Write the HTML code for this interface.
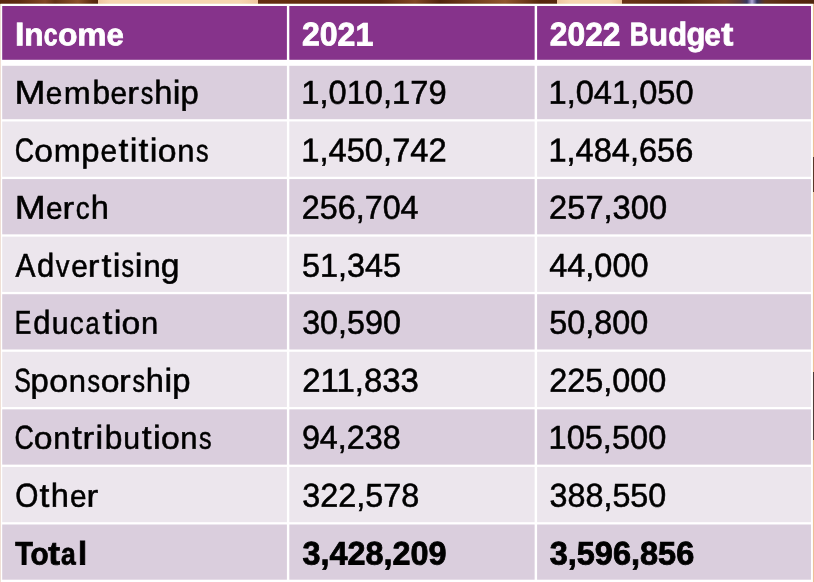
<!DOCTYPE html><html><head><meta charset="utf-8"><style>
html,body{margin:0;padding:0;width:814px;height:582px;overflow:hidden;position:relative;background:rgb(242,220,200);}
svg{position:absolute;left:0;top:0;will-change:transform;}
text{font-family:"Liberation Sans",sans-serif;text-rendering:geometricPrecision;}
.r{fill:#000;stroke:#000;stroke-width:0.55}
.b{font-weight:bold;fill:#000;stroke:#000;stroke-width:0.8}
.w{fill:#fff;stroke:#fff}
</style></head><body>
<svg width="814" height="582" viewBox="0 0 814 582"><defs><linearGradient id="s" gradientUnits="userSpaceOnUse" x1="0" y1="0" x2="814" y2="0"><stop offset="0.00000" stop-color="rgb(88,40,14)"/><stop offset="0.02457" stop-color="rgb(95,44,16)"/><stop offset="0.05528" stop-color="rgb(130,72,36)"/><stop offset="0.06757" stop-color="rgb(100,50,20)"/><stop offset="0.09582" stop-color="rgb(140,82,42)"/><stop offset="0.11302" stop-color="rgb(95,45,16)"/><stop offset="0.12039" stop-color="rgb(85,38,12)"/><stop offset="0.12041" stop-color="rgb(238,198,158)"/><stop offset="0.13514" stop-color="rgb(246,214,176)"/><stop offset="0.29484" stop-color="rgb(246,214,176)"/><stop offset="0.31695" stop-color="rgb(238,198,158)"/><stop offset="0.31697" stop-color="rgb(100,46,16)"/><stop offset="0.36855" stop-color="rgb(98,44,15)"/><stop offset="0.46683" stop-color="rgb(90,40,13)"/><stop offset="0.50983" stop-color="rgb(130,72,36)"/><stop offset="0.54054" stop-color="rgb(82,36,11)"/><stop offset="0.62039" stop-color="rgb(145,88,45)"/><stop offset="0.66339" stop-color="rgb(86,38,12)"/><stop offset="0.68428" stop-color="rgb(88,40,13)"/><stop offset="0.68429" stop-color="rgb(238,198,158)"/><stop offset="0.70025" stop-color="rgb(246,214,176)"/><stop offset="0.74939" stop-color="rgb(246,214,176)"/><stop offset="0.76462" stop-color="rgb(236,192,150)"/><stop offset="0.76463" stop-color="rgb(105,52,22)"/><stop offset="0.83538" stop-color="rgb(90,42,15)"/><stop offset="0.89066" stop-color="rgb(120,66,35)"/><stop offset="0.90909" stop-color="rgb(90,56,56)"/><stop offset="0.91769" stop-color="rgb(55,55,95)"/><stop offset="0.92383" stop-color="rgb(175,165,215)"/><stop offset="0.92998" stop-color="rgb(50,50,92)"/><stop offset="0.93980" stop-color="rgb(95,52,28)"/><stop offset="0.97052" stop-color="rgb(88,40,14)"/><stop offset="1.00000" stop-color="rgb(80,38,13)"/></linearGradient></defs><rect x="0" y="0" width="814" height="3.9" fill="url(#s)"/><rect x="0" y="3.9" width="1" height="578.1" fill="rgb(240,224,214)"/><rect x="812.9" y="3.9" width="1.1" height="578.1" fill="rgb(238,192,150)"/><rect x="812.9" y="157" width="1.1" height="35" fill="rgb(90,55,40)"/><rect x="812.9" y="372" width="1.1" height="68" fill="rgb(80,60,55)"/><rect x="1" y="3.8" width="811.9" height="578.2" fill="#fff"/><rect x="2.2" y="6" width="284.7" height="53.8" fill="rgb(134,51,139)"/><rect x="289.3" y="6" width="245.35" height="53.8" fill="rgb(134,51,139)"/><rect x="537.1" y="6" width="273.9" height="53.8" fill="rgb(134,51,139)"/><rect x="2.2" y="65.8" width="284.7" height="53.4" fill="rgb(218,206,221)"/><rect x="289.3" y="65.8" width="245.35" height="53.4" fill="rgb(218,206,221)"/><rect x="537.1" y="65.8" width="273.9" height="53.4" fill="rgb(218,206,221)"/><rect x="2.2" y="121.5" width="284.7" height="55.271" fill="rgb(236,230,237)"/><rect x="289.3" y="121.5" width="245.35" height="55.271" fill="rgb(236,230,237)"/><rect x="537.1" y="121.5" width="273.9" height="55.271" fill="rgb(236,230,237)"/><rect x="2.2" y="179.071" width="284.7" height="55.271" fill="rgb(218,206,221)"/><rect x="289.3" y="179.071" width="245.35" height="55.271" fill="rgb(218,206,221)"/><rect x="537.1" y="179.071" width="273.9" height="55.271" fill="rgb(218,206,221)"/><rect x="2.2" y="236.642" width="284.7" height="55.271" fill="rgb(236,230,237)"/><rect x="289.3" y="236.642" width="245.35" height="55.271" fill="rgb(236,230,237)"/><rect x="537.1" y="236.642" width="273.9" height="55.271" fill="rgb(236,230,237)"/><rect x="2.2" y="294.213" width="284.7" height="55.271" fill="rgb(218,206,221)"/><rect x="289.3" y="294.213" width="245.35" height="55.271" fill="rgb(218,206,221)"/><rect x="537.1" y="294.213" width="273.9" height="55.271" fill="rgb(218,206,221)"/><rect x="2.2" y="351.784" width="284.7" height="55.271" fill="rgb(236,230,237)"/><rect x="289.3" y="351.784" width="245.35" height="55.271" fill="rgb(236,230,237)"/><rect x="537.1" y="351.784" width="273.9" height="55.271" fill="rgb(236,230,237)"/><rect x="2.2" y="409.355" width="284.7" height="55.271" fill="rgb(218,206,221)"/><rect x="289.3" y="409.355" width="245.35" height="55.271" fill="rgb(218,206,221)"/><rect x="537.1" y="409.355" width="273.9" height="55.271" fill="rgb(218,206,221)"/><rect x="2.2" y="466.926" width="284.7" height="55.271" fill="rgb(236,230,237)"/><rect x="289.3" y="466.926" width="245.35" height="55.271" fill="rgb(236,230,237)"/><rect x="537.1" y="466.926" width="273.9" height="55.271" fill="rgb(236,230,237)"/><rect x="2.2" y="524.497" width="284.7" height="55.203" fill="rgb(218,206,221)"/><rect x="289.3" y="524.497" width="245.35" height="55.203" fill="rgb(218,206,221)"/><rect x="537.1" y="524.497" width="273.9" height="55.203" fill="rgb(218,206,221)"/>
<text class="b w" font-size="32.6" transform="matrix(0.9849 0.0005 0 1 301.91 45.36)">2021</text>
<text class="b w" font-size="32.6" transform="matrix(0.9757 0.0005 0 1 549.81 45.36)">2022</text>
<text class="r" font-size="33.2" transform="matrix(0.9833 0.0005 0 1 301.36 103.77)">1,010,179</text>
<text class="r" font-size="33.2" transform="matrix(0.9822 0.0005 0 1 548.54 103.77)">1,041,050</text>
<text class="r" font-size="33.2" transform="matrix(0.9851 0.0005 0 1 301.23 161.43)">1,450,742</text>
<text class="r" font-size="33.2" transform="matrix(0.9815 0.0005 0 1 548.44 161.43)">1,484,656</text>
<text class="r" font-size="33.2" transform="matrix(0.9728 0.0005 0 1 301.85 218.73)">256,704</text>
<text class="r" font-size="33.2" transform="matrix(0.9831 0.0005 0 1 549.12 218.73)">257,300</text>
<text class="r" font-size="33.2" transform="matrix(0.9761 0.0005 0 1 301.89 276.73)">51,345</text>
<text class="r" font-size="33.2" transform="matrix(0.9783 0.0005 0 1 549.2 276.73)">44,000</text>
<text class="r" font-size="33.2" transform="matrix(0.9718 0.0005 0 1 302.17 333.68)">30,590</text>
<text class="r" font-size="33.2" transform="matrix(0.9748 0.0005 0 1 549.32 333.68)">50,800</text>
<text class="r" font-size="33.2" transform="matrix(0.9924 0.0005 0 1 302.23 391.68)">211,833</text>
<text class="r" font-size="33.2" transform="matrix(0.9761 0.0005 0 1 549.19 391.68)">225,000</text>
<text class="r" font-size="33.2" transform="matrix(0.9726 0.0005 0 1 301.9 448.63)">94,238</text>
<text class="r" font-size="33.2" transform="matrix(0.9814 0.0005 0 1 548.52 448.63)">105,500</text>
<text class="r" font-size="33.2" transform="matrix(0.9757 0.0005 0 1 302.17 506.73)">322,578</text>
<text class="r" font-size="33.2" transform="matrix(0.9723 0.0005 0 1 549.59 506.73)">388,550</text>
<text class="b" font-size="32.6" transform="matrix(0.994 0.0005 0 1 302.39 564.55)">3,428,209</text>
<text class="b" font-size="32.6" transform="matrix(0.9977 0.0005 0 1 549.67 564.55)">3,596,856</text>
<text class="b w" font-size="32.6" transform="matrix(1.0435 0.0005 0 1 14.92 45.36)">I</text>
<text class="b w" font-size="32.6" transform="matrix(0.9719 0.0005 0 0.955 24.21 45.36)">n</text>
<text class="b w" font-size="32.6" transform="matrix(0.7609 0.0005 0 0.955 43.63 45.36)">c</text>
<text class="b w" font-size="32.6" transform="matrix(0.9789 0.0005 0 0.955 57.95 45.36)">o</text>
<text class="b w" font-size="32.6" transform="matrix(1.0074 0.0005 0 0.955 77.14 45.36)">m</text>
<text class="b w" font-size="32.6" transform="matrix(0.9528 0.0005 0 0.955 106.39 45.36)">e</text>
<text class="b w" font-size="32.6" transform="matrix(0.7997 0.0005 0 1 629.76 45.36)">B</text>
<text class="b w" font-size="32.6" transform="matrix(0.9719 0.0005 0 0.955 648.74 45.36)">u</text>
<text class="b w" font-size="32.6" transform="matrix(0.9496 0.0005 0 1 668.23 45.36)">d</text>
<text class="b w" font-size="32.6" transform="matrix(0.9515 0.0005 0 1 686.43 45.36)">g</text>
<text class="b w" font-size="32.6" transform="matrix(0.9083 0.0005 0 0.955 704.34 45.36)">e</text>
<text class="b w" font-size="32.6" transform="matrix(1.1133 0.0005 0 1 721.16 45.36)">t</text>
<text class="r" font-size="33.2" transform="matrix(1.1189 0.0005 0 1 14.59 103.77)">M</text>
<text class="r" font-size="33.2" transform="matrix(0.8955 0.0005 0 0.94 45.85 103.77)">e</text>
<text class="r" font-size="33.2" transform="matrix(0.9737 0.0005 0 0.94 63.65 103.77)">m</text>
<text class="r" font-size="33.2" transform="matrix(0.9544 0.0005 0 1 92.57 103.77)">b</text>
<text class="r" font-size="33.2" transform="matrix(0.8955 0.0005 0 0.94 110.58 103.77)">e</text>
<text class="r" font-size="33.2" transform="matrix(1.0542 0.0005 0 0.94 127.15 103.77)">r</text>
<text class="r" font-size="33.2" transform="matrix(0.7564 0.0005 0 0.94 140.81 103.77)">s</text>
<text class="r" font-size="33.2" transform="matrix(0.9817 0.0005 0 1 154.14 103.77)">h</text>
<text class="r" font-size="33.2" transform="matrix(1.0452 0.0005 0 1 172.83 103.77)">i</text>
<text class="r" font-size="33.2" transform="matrix(0.9879 0.0005 0 1 180.6 103.77)">p</text>
<text class="r" font-size="33.2" transform="matrix(0.8062 0.0005 0 1 14.87 161.43)">C</text>
<text class="r" font-size="33.2" transform="matrix(1.0175 0.0005 0 0.94 34.15 161.43)">o</text>
<text class="r" font-size="33.2" transform="matrix(0.9737 0.0005 0 0.94 53.63 161.43)">m</text>
<text class="r" font-size="33.2" transform="matrix(0.9879 0.0005 0 1 81.14 161.43)">p</text>
<text class="r" font-size="33.2" transform="matrix(0.8955 0.0005 0 0.94 100.56 161.43)">e</text>
<text class="r" font-size="33.2" transform="matrix(1.0674 0.0005 0 1 118.53 161.43)">t</text>
<text class="r" font-size="33.2" transform="matrix(1.0452 0.0005 0 1 129.77 161.43)">i</text>
<text class="r" font-size="33.2" transform="matrix(1.0674 0.0005 0 1 138.58 161.43)">t</text>
<text class="r" font-size="33.2" transform="matrix(1.0452 0.0005 0 1 149.82 161.43)">i</text>
<text class="r" font-size="33.2" transform="matrix(1.0175 0.0005 0 0.94 157.72 161.43)">o</text>
<text class="r" font-size="33.2" transform="matrix(0.9324 0.0005 0 0.94 177.19 161.43)">n</text>
<text class="r" font-size="33.2" transform="matrix(0.7564 0.0005 0 0.94 195.93 161.43)">s</text>
<text class="r" font-size="33.2" transform="matrix(1.1189 0.0005 0 1 14.7 218.73)">M</text>
<text class="r" font-size="33.2" transform="matrix(0.8955 0.0005 0 0.94 45.96 218.73)">e</text>
<text class="r" font-size="33.2" transform="matrix(1.0542 0.0005 0 0.94 62.53 218.73)">r</text>
<text class="r" font-size="33.2" transform="matrix(0.8348 0.0005 0 0.94 75.78 218.73)">c</text>
<text class="r" font-size="33.2" transform="matrix(0.9817 0.0005 0 1 90.65 218.73)">h</text>
<text class="r" font-size="33.2" transform="matrix(0.9017 0.0005 0 1 15.59 276.73)">A</text>
<text class="r" font-size="33.2" transform="matrix(0.9343 0.0005 0 1 36.91 276.73)">d</text>
<text class="r" font-size="33.2" transform="matrix(0.8276 0.0005 0 0.94 55.68 276.73)">v</text>
<text class="r" font-size="33.2" transform="matrix(0.8955 0.0005 0 0.94 71.17 276.73)">e</text>
<text class="r" font-size="33.2" transform="matrix(1.0542 0.0005 0 0.94 87.74 276.73)">r</text>
<text class="r" font-size="33.2" transform="matrix(1.0674 0.0005 0 1 101.53 276.73)">t</text>
<text class="r" font-size="33.2" transform="matrix(1.0452 0.0005 0 1 112.77 276.73)">i</text>
<text class="r" font-size="33.2" transform="matrix(0.7564 0.0005 0 0.94 121.47 276.73)">s</text>
<text class="r" font-size="33.2" transform="matrix(1.0452 0.0005 0 1 134.82 276.73)">i</text>
<text class="r" font-size="33.2" transform="matrix(0.9324 0.0005 0 0.94 143.45 276.73)">n</text>
<text class="r" font-size="33.2" transform="matrix(1.0147 0.0005 0 1 160.78 276.73)">g</text>
<text class="r" font-size="33.2" transform="matrix(0.75 0.0005 0 1 14.7 333.68)">E</text>
<text class="r" font-size="33.2" transform="matrix(0.9343 0.0005 0 1 33.22 333.68)">d</text>
<text class="r" font-size="33.2" transform="matrix(0.9111 0.0005 0 0.94 51.77 333.68)">u</text>
<text class="r" font-size="33.2" transform="matrix(0.8348 0.0005 0 0.94 69.85 333.68)">c</text>
<text class="r" font-size="33.2" transform="matrix(0.7594 0.0005 0 0.94 85.48 333.68)">a</text>
<text class="r" font-size="33.2" transform="matrix(1.0674 0.0005 0 1 102.43 333.68)">t</text>
<text class="r" font-size="33.2" transform="matrix(1.0452 0.0005 0 1 113.67 333.68)">i</text>
<text class="r" font-size="33.2" transform="matrix(1.0175 0.0005 0 0.94 121.57 333.68)">o</text>
<text class="r" font-size="33.2" transform="matrix(0.9324 0.0005 0 0.94 141.03 333.68)">n</text>
<text class="r" font-size="33.2" transform="matrix(0.75 0.0005 0 1 14.23 391.68)">S</text>
<text class="r" font-size="33.2" transform="matrix(0.9879 0.0005 0 1 30.53 391.68)">p</text>
<text class="r" font-size="33.2" transform="matrix(1.0175 0.0005 0 0.94 49.33 391.68)">o</text>
<text class="r" font-size="33.2" transform="matrix(0.9324 0.0005 0 0.94 68.79 391.68)">n</text>
<text class="r" font-size="33.2" transform="matrix(0.7564 0.0005 0 0.94 87.53 391.68)">s</text>
<text class="r" font-size="33.2" transform="matrix(1.0175 0.0005 0 0.94 100.63 391.68)">o</text>
<text class="r" font-size="33.2" transform="matrix(1.0542 0.0005 0 0.94 118.88 391.68)">r</text>
<text class="r" font-size="33.2" transform="matrix(0.7564 0.0005 0 0.94 132.55 391.68)">s</text>
<text class="r" font-size="33.2" transform="matrix(0.9817 0.0005 0 1 145.87 391.68)">h</text>
<text class="r" font-size="33.2" transform="matrix(1.0452 0.0005 0 1 164.57 391.68)">i</text>
<text class="r" font-size="33.2" transform="matrix(0.9879 0.0005 0 1 172.34 391.68)">p</text>
<text class="r" font-size="33.2" transform="matrix(0.8062 0.0005 0 1 14.39 448.63)">C</text>
<text class="r" font-size="33.2" transform="matrix(1.0175 0.0005 0 0.94 33.67 448.63)">o</text>
<text class="r" font-size="33.2" transform="matrix(0.9324 0.0005 0 0.94 53.13 448.63)">n</text>
<text class="r" font-size="33.2" transform="matrix(1.0674 0.0005 0 1 71.99 448.63)">t</text>
<text class="r" font-size="33.2" transform="matrix(1.0542 0.0005 0 0.94 82.49 448.63)">r</text>
<text class="r" font-size="33.2" transform="matrix(1.0452 0.0005 0 1 95.62 448.63)">i</text>
<text class="r" font-size="33.2" transform="matrix(0.9544 0.0005 0 1 104.8 448.63)">b</text>
<text class="r" font-size="33.2" transform="matrix(0.9111 0.0005 0 0.94 123.15 448.63)">u</text>
<text class="r" font-size="33.2" transform="matrix(1.0674 0.0005 0 1 141.76 448.63)">t</text>
<text class="r" font-size="33.2" transform="matrix(1.0452 0.0005 0 1 153 448.63)">i</text>
<text class="r" font-size="33.2" transform="matrix(1.0175 0.0005 0 0.94 160.9 448.63)">o</text>
<text class="r" font-size="33.2" transform="matrix(0.9324 0.0005 0 0.94 180.37 448.63)">n</text>
<text class="r" font-size="33.2" transform="matrix(0.7564 0.0005 0 0.94 199.11 448.63)">s</text>
<text class="r" font-size="33.2" transform="matrix(0.8979 0.0005 0 1 15.36 506.73)">O</text>
<text class="r" font-size="33.2" transform="matrix(1.0674 0.0005 0 1 39.6 506.73)">t</text>
<text class="r" font-size="33.2" transform="matrix(0.9817 0.0005 0 1 50.81 506.73)">h</text>
<text class="r" font-size="33.2" transform="matrix(0.8955 0.0005 0 0.94 69.88 506.73)">e</text>
<text class="r" font-size="33.2" transform="matrix(1.0542 0.0005 0 0.94 86.45 506.73)">r</text>
<text class="b" font-size="32.6" transform="matrix(0.8856 0.0005 0 1 15.18 564.55)">T</text>
<text class="b" font-size="32.6" transform="matrix(0.9098 0.0005 0 0.955 30.54 564.55)">o</text>
<text class="b" font-size="32.6" transform="matrix(1.0835 0.0005 0 1 48.17 564.55)">t</text>
<text class="b" font-size="32.6" transform="matrix(0.8112 0.0005 0 0.955 60.93 564.55)">a</text>
<text class="b" font-size="32.6" transform="matrix(1.006 0.0005 0 1 77.91 564.55)">l</text></svg>
</body></html>
